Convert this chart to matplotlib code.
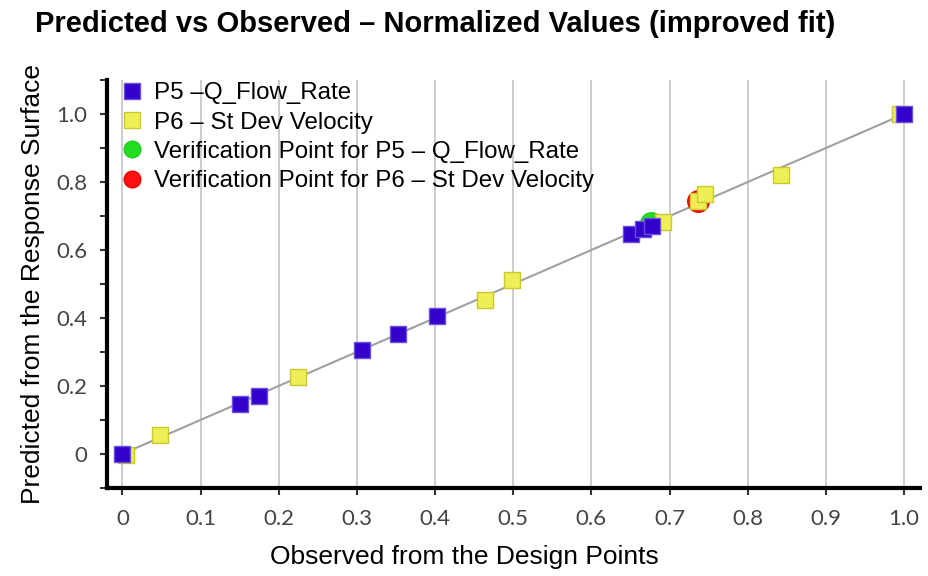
import matplotlib
matplotlib.use("Agg")
import matplotlib.pyplot as plt
from matplotlib.ticker import MultipleLocator
from matplotlib.lines import Line2D

# Data (normalized values)
p5_obs = [0.0, 0.150, 0.175, 0.306, 0.352, 0.403, 0.650, 0.666, 0.678, 1.0]
p5_pred = [0.0, 0.148, 0.169, 0.306, 0.354, 0.405, 0.648, 0.662, 0.672, 1.0]
p6_obs = [0.004, 0.048, 0.224, 0.464, 0.499, 0.692, 0.736, 0.745, 0.842, 0.995]
p6_pred = [-0.004, 0.056, 0.225, 0.453, 0.512, 0.683, 0.743, 0.765, 0.820, 1.0]
ver_p5_obs = [0.676]
ver_p5_pred = [0.678]
ver_p6_obs = [0.736]
ver_p6_pred = [0.743]
ref_line = [0.0, 1.0]

xticks = [0, 0.1, 0.2, 0.3, 0.4, 0.5, 0.6, 0.7, 0.8, 0.9, 1.0]
xticklabels = ["0", "0.1", "0.2", "0.3", "0.4", "0.5", "0.6", "0.7", "0.8", "0.9", "1.0"]
yticks = [0, 0.2, 0.4, 0.6, 0.8, 1.0]
yticklabels = ["0", "0.2", "0.4", "0.6", "0.8", "1.0"]

plt.rcParams['font.family'] = ['Liberation Sans', 'DejaVu Sans']

fig = plt.figure(figsize=(9.29, 5.76), dpi=100)
ax = fig.add_axes([0.115, 0.153, 0.875, 0.708])

for x in xticks:
    ax.axvline(x, color='#c8c8c8', lw=1.3, zorder=0)

ax.plot(ref_line, ref_line, color='#a0a0a0', lw=1.5, zorder=1)

ms = 120
ax.scatter(ver_p5_obs, ver_p5_pred, s=240, marker='o', color='#22dd22', edgecolors='#22cc22', zorder=2)
ax.scatter(ver_p6_obs, ver_p6_pred, s=240, marker='o', color='#ff1010', edgecolors='#ee0000', zorder=2)
ax.scatter(p6_obs, p6_pred, s=ms, marker='s', color='#eeee55', edgecolors='#c8c830', linewidths=1.0, zorder=3)
ax.scatter(p5_obs, p5_pred, s=ms, marker='s', color='#3300cc', edgecolors='#6a50e0', linewidths=1.0, zorder=4)

ax.set_xlim(-0.02, 1.02)
ax.set_ylim(-0.1, 1.1)
ax.set_xticks(xticks)
ax.set_xticklabels(xticklabels)
ax.set_yticks(yticks)
ax.set_yticklabels(yticklabels)
ax.yaxis.set_minor_locator(MultipleLocator(0.1))

for s in ['top', 'right']:
    ax.spines[s].set_visible(False)
for s in ['left', 'bottom']:
    ax.spines[s].set_linewidth(3)
    ax.spines[s].set_color('black')

ax.tick_params(axis='both', which='major', length=5, width=1.5, color='#333333',
               labelsize=16, labelcolor='#444444')
ax.tick_params(axis='y', which='minor', length=5, width=1.5, color='#333333')
ax.tick_params(axis='x', pad=10)
ax.tick_params(axis='y', pad=9)
for lab in ax.get_xticklabels() + ax.get_yticklabels():
    lab.set_family(['Lato', 'DejaVu Sans'])

ax.set_xlabel('Observed from the Design Points', fontsize=19)
ax.xaxis.set_label_coords(0.44, -0.14)
ax.set_ylabel('Predicted from the Response Surface', fontsize=19, labelpad=8)

fig.suptitle('Predicted vs Observed – Normalized Values (improved fit)', fontsize=21, fontweight='bold',
             x=0.468, y=0.982)

labels = ['P5 –Q_Flow_Rate', 'P6 – St Dev Velocity',
          'Verification Point for P5 – Q_Flow_Rate', 'Verification Point for P6 – St Dev Velocity']
h = [Line2D([], [], marker='s', ls='', markersize=11, markerfacecolor='#3300cc', markeredgecolor='#6a50e0'),
     Line2D([], [], marker='s', ls='', markersize=11, markerfacecolor='#eeee55', markeredgecolor='#c8c830'),
     Line2D([], [], marker='o', ls='', markersize=12, markerfacecolor='#22dd22', markeredgecolor='#22cc22'),
     Line2D([], [], marker='o', ls='', markersize=12, markerfacecolor='#ff1010', markeredgecolor='#ee0000')]
leg = ax.legend(h, labels, loc='upper left', bbox_to_anchor=(0.0, 1.03),
                frameon=False, fontsize=17.4, handletextpad=0.45, labelspacing=0.3, borderaxespad=0.2,
                handlelength=0.9)
leg.set_zorder(5)

fig.savefig('out.png', dpi=100)
